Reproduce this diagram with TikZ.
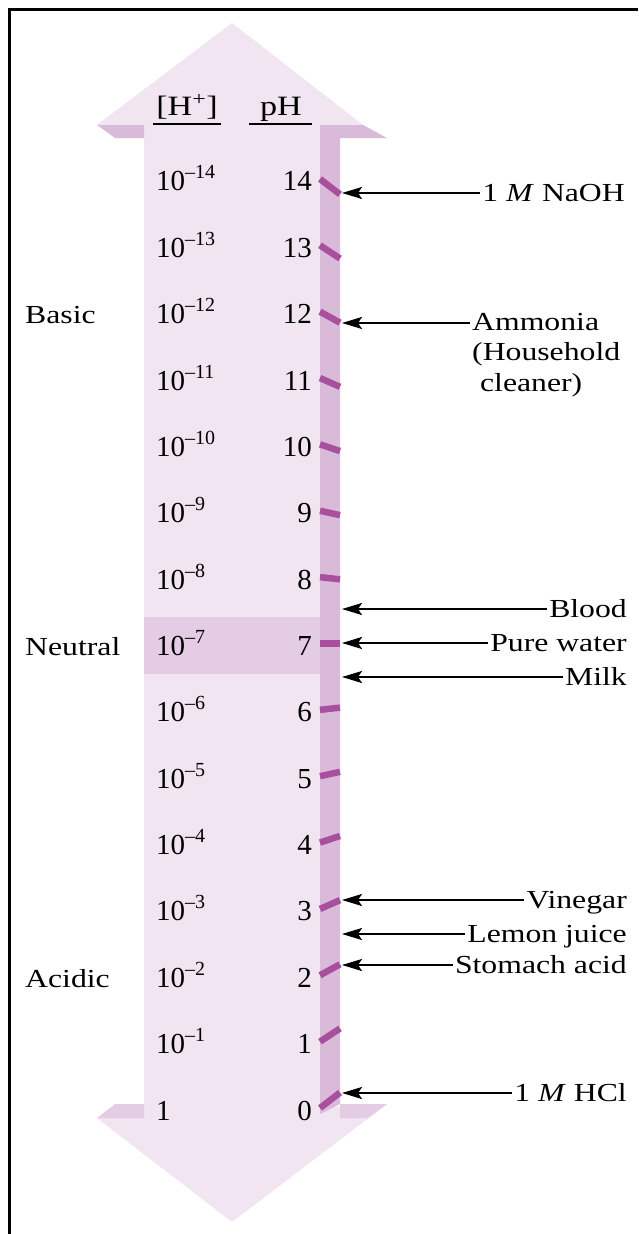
\documentclass[tikz,border=0pt]{standalone}
\usepackage{fontspec}
\setmainfont{Liberation Serif}[FakeStretch=1.22]
\newfontfamily\numfont{Liberation Serif}
\usetikzlibrary{arrows.meta}
\definecolor{shaftc}{RGB}{241,229,241}
\definecolor{stripc}{RGB}{217,187,217}
\definecolor{wingc}{RGB}{228,204,228}
\definecolor{bandc}{RGB}{228,204,228}
\definecolor{tickc}{RGB}{168,80,158}
\newcommand{\pw}[1]{\raisebox{12pt}{\fontsize{20}{20}\selectfont #1}}
\tikzset{
  lbl/.style={font=\fontsize{26}{30.5}\selectfont, inner sep=2pt},
  hdr/.style={font=\fontsize{28}{30}\selectfont, inner sep=0pt, anchor=base},
  num/.style={font=\numfont\fontsize{29}{30}\selectfont, inner sep=0pt},
  hnum/.style={font=\numfont\fontsize{29}{30}\selectfont, inner sep=0pt, anchor=base west},
  ptr/.style={line width=2pt, -{Stealth[length=20pt,width=12pt,inset=4pt]}},
  tickmark/.style={tickc, line width=6.5pt},
  uline/.style={line width=2.5pt},
}
\begin{document}
\begin{tikzpicture}[x=1pt,y=-1pt]
\useasboundingbox (0,0) rectangle (638,1234);
\fill[white] (0,0) rectangle (638,1234);
% frame
\draw[line width=3pt] (9,1234) -- (9,9.5) -- (638,9.5);
% shaft
\fill[shaftc] (144,125) rectangle (320,1118);
% top head
\fill[shaftc] (232,23) -- (97,125) -- (363,125) -- cycle;
\fill[stripc] (97,125) -- (144,125) -- (144,138) -- (115,138) -- cycle;
\fill[stripc] (320,125) -- (363,125) -- (387,138) -- (340,138) -- cycle;
% bottom head
\fill[shaftc] (97,1118) -- (387,1104) -- (232,1222) -- cycle;
\fill[wingc] (115,1104) -- (144,1104) -- (144,1118) -- (97,1118) -- cycle;
\fill[wingc] (340,1104) -- (387,1104) -- (368,1118) -- (340,1118) -- cycle;
% side strip
\fill[stripc] (320,125) -- (340,125) -- (340,1104) -- (320,1114) -- cycle;
% neutral band
\fill[bandc] (144,617) rectangle (320,674);
% ticks
\foreach \n in {0,...,14}{
  \draw[tickmark] (320,{1108-66.36*\n}) -- (340,{1108-66.36*\n+2.2*(\n-7)});
}
% headers
\node[hdr] (hH) at (187,115) {[H\textsuperscript{+}]};
\node[hdr] (hpH) at (281,115) {pH};
\draw[uline] (153,124) -- (221,124);
\draw[uline] (249,124) -- (312,124);
% numbers
\node[hnum] (h0) at (156,1120) {1};
\foreach \n in {1,...,14}{
  \node[hnum] (h\n) at (156,{1120-66.36*\n}) {10\pw{–\n}};
}
\foreach \n in {0,...,14}{
  \node[num, anchor=base east] (p\n) at (312,{1120-66.36*\n}) {\n};
}
% left labels
\node[lbl, anchor=base west, inner sep=0pt] (basic) at (25,{1120-66.36*12}) {Basic};
\node[lbl, anchor=base west, inner sep=0pt] (neutral) at (25,{1120-66.36*7}) {Neutral};
\node[lbl, anchor=base west, inner sep=0pt] (acidic) at (25,{1120-66.36*2}) {Acidic};
% right labels
\node[lbl, anchor=base east] (naoh) at (627,201) {1 \textit{M} NaOH};
\node[lbl, anchor=north west, align=left, inner sep=0pt] (amm) at (472,313) {Ammonia\\(Household\\\ cleaner)};
\node[lbl, anchor=base east] (blood) at (629,617) {Blood};
\node[lbl, anchor=base east] (water) at (629,651) {Pure water};
\node[lbl, anchor=base east] (milk) at (629,685) {Milk};
\node[lbl, anchor=base east] (vinegar) at (629,908) {Vinegar};
\node[lbl, anchor=base east] (lemon) at (629,942) {Lemon juice};
\node[lbl, anchor=base east] (stomach) at (629,973) {Stomach acid};
\node[lbl, anchor=base east] (hcl) at (629,1101) {1 \textit{M} HCl};
% arrow tips
\coordinate (tnaoh) at (342,193);
\coordinate (tamm) at (342,323);
\coordinate (tblood) at (342,609);
\coordinate (twater) at (342,643);
\coordinate (tmilk) at (342,677);
\coordinate (tvinegar) at (342,900);
\coordinate (tlemon) at (342,934);
\coordinate (tstomach) at (342,965);
\coordinate (thcl) at (342,1093);
\foreach \a in {naoh,blood,water,milk,vinegar,lemon,stomach,hcl}{
  \draw[ptr] (\a.west |- t\a) -- (t\a);
}
\draw[ptr] ([xshift=-2pt]amm.west |- tamm) -- (tamm);
\end{tikzpicture}
\end{document}
